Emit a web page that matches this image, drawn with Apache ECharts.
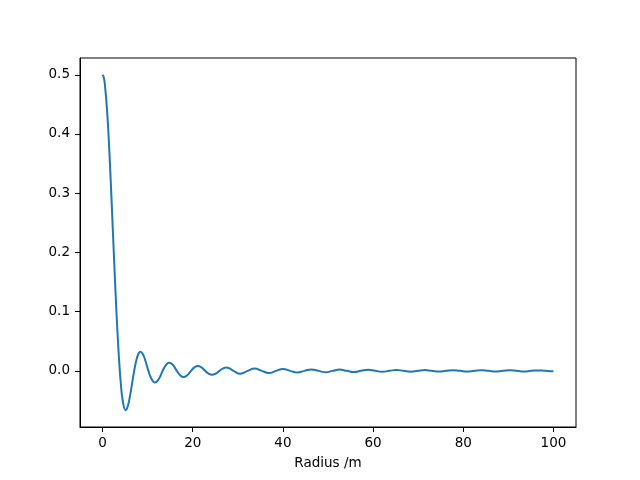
<!DOCTYPE html>
<html lang="en">
<head>
    <meta charset="UTF-8">
    <title>Radius</title>
    <script src="https://cdn.jsdelivr.net/npm/echarts@6.0.0/dist/echarts.min.js"></script>
    <style>
        body { margin: 0; background: #fff; }
    </style>
</head>
<body>
<div id="chart" style="width: 640px; height:480px;"></div>
<script>
    // values (radius in m, amplitude)
    var radius = [
        0, 0.25, 0.5, 1, 1.5, 2, 2.5, 3, 3.5, 3.832, 4, 4.5, 5.136, 5.5, 6, 6.5, 7.016, 7.5, 8, 8.417, 9, 9.5,
        10.174, 10.897, 11.62, 12.472, 13.324, 14.06, 14.796, 15.633, 16.471, 17.215, 17.96, 18.788,
        19.616, 20.366, 21.117, 21.938, 22.76, 23.515, 24.27, 25.087, 25.904, 26.66, 27.421, 28.234,
        29.047, 30.569, 32.19, 33.717, 35.332, 36.863, 38.475, 40.008, 41.617, 43.154, 44.759, 46.299,
        47.902, 49.442, 51.044, 52.586, 54.186, 55.73, 57.328, 58.873, 60.47, 62.017, 63.611, 65.16,
        66.753, 68.303, 69.895, 71.447, 73.037, 74.59, 76.179, 77.733, 79.321, 80.876, 82.462, 84.019,
        85.604, 87.162, 88.746, 90.305, 91.888, 93.448, 95.029, 96.591, 98.171, 99.734, 100
    ];
    var amplitude = [
        0.5, 0.4961, 0.4846, 0.4401, 0.3719, 0.2884, 0.1988, 0.113, 0.0393, 0, -0.0165, -0.0514, -0.0664, -0.0621, -0.0461, -0.0237, 0, 0.018, 0.0293, 0.0323, 0.0273, 0.017,
        0, -0.014, -0.0197, -0.0138, 0, 0.0098, 0.0138, 0.0097, 0, -0.0074, -0.0104, -0.0073,
        0, 0.0058, 0.0082, 0.0058, 0, -0.0047, -0.0066, -0.0047, 0, 0.0039, 0.0055, 0.0039,
        0, -0.0047, 0, 0.0041, 0, -0.0036, 0, 0.0031, 0, -0.0028, 0, 0.0025,
        0, -0.0023, 0, 0.0021, 0, -0.0019, 0, 0.0018, 0, -0.0016, 0, 0.0015,
        0, -0.0014, 0, 0.0013, 0, -0.0012, 0, 0.0012, 0, -0.0011, 0, 0.001,
        0, -0.001, 0, 0.0009, 0, -0.0009, 0, 0.0008, 0, -0.0008, -0.0008
    ];
    var xTicks = [0, 20, 40, 60, 80, 100];
    var yTicks = [0, 0.1, 0.2, 0.3, 0.4, 0.5];

    var points = radius.map(function (r, i) { return [r, amplitude[i]]; });

    var chart = echarts.init(document.getElementById('chart'));
    var font = 'DejaVu Sans';
    var option = {
        animation: false,
        textStyle: { fontFamily: font },
        grid: {
            left: 80, right: 64, top: 58, bottom: 53,
            show: true, borderColor: '#000', borderWidth: 1
        },
        xAxis: {
            type: 'value',
            min: -5,
            max: 105,
            name: 'Radius /m',
            nameLocation: 'middle',
            nameGap: 29,
            nameTextStyle: { color: '#000', fontSize: 13.5, fontFamily: font },
            axisLine: { onZero: false, lineStyle: { color: '#000', width: 1 } },
            axisTick: { show: true, inside: false, length: 5, customValues: xTicks, lineStyle: { color: '#000' } },
            axisLabel: { customValues: xTicks, color: '#000', fontSize: 13.5, margin: 9, fontFamily: font },
            splitLine: { show: false }
        },
        yAxis: {
            type: 'value',
            min: -0.0948,
            max: 0.5283,
            axisLine: { show: true, onZero: false, lineStyle: { color: '#000', width: 1 } },
            axisTick: { show: true, inside: false, length: 5, customValues: yTicks, lineStyle: { color: '#000' } },
            axisLabel: {
                customValues: yTicks, color: '#000', fontSize: 13.5, margin: 10, fontFamily: font,
                formatter: function (v) { return v.toFixed(1); }
            },
            splitLine: { show: false }
        },
        series: [
            {
                type: 'line',
                data: points,
                showSymbol: false,
                smooth: 0.5,
                lineStyle: { color: '#1f77b4', width: 2 },
                itemStyle: { color: '#1f77b4' }
            }
        ]
    };
    chart.setOption(option);
</script>
</body>
</html>
